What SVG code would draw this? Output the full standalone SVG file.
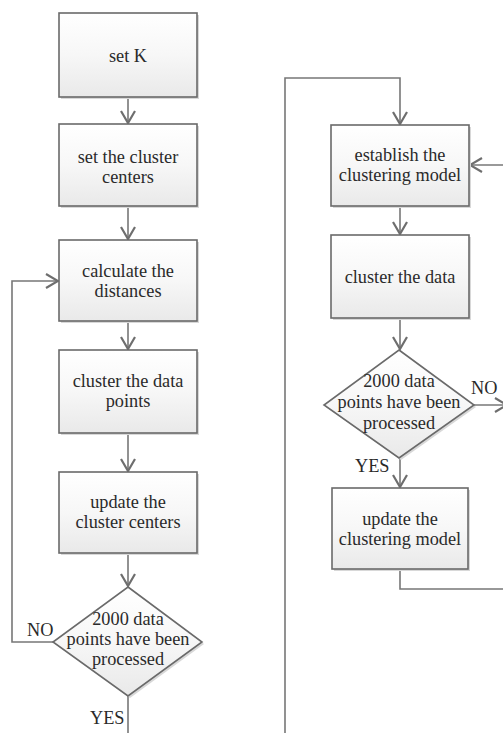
<svg xmlns="http://www.w3.org/2000/svg" width="503" height="733" viewBox="0 0 503 733">
<defs>
<linearGradient id="g" x1="0" y1="0" x2="0" y2="1">
<stop offset="0" stop-color="#ffffff"/>
<stop offset="0.5" stop-color="#f7f7f7"/>
<stop offset="1" stop-color="#e9e9e9"/>
</linearGradient>
<marker id="ah" viewBox="0 0 16 16" markerWidth="16" markerHeight="16" refX="14" refY="8" orient="auto" markerUnits="userSpaceOnUse">
<path d="M2,1 L14,8 L2,15" fill="none" stroke="#6e6e6e" stroke-width="2.2"/>
</marker>
</defs>
<style>
.sh{fill:#d8d8d8;stroke:none}
.bx{fill:url(#g);stroke:#6a6a6a;stroke-width:1.6}
.t{font-family:'Liberation Serif','Times New Roman',serif;font-size:18.3px;fill:#2a2a2a;text-anchor:middle}
.l{font-family:'Liberation Serif','Times New Roman',serif;font-size:18.3px;fill:#2a2a2a}
.c{fill:none;stroke:#777;stroke-width:1.6}
.a{marker-end:url(#ah)}
</style>
<rect width="503" height="733" fill="#fff"/>
<g id="connectors">
<path class="c a" d="M128,97 V123"/>
<path class="c a" d="M128,206 V239"/>
<path class="c a" d="M128,321 V349"/>
<path class="c a" d="M128,433 V471"/>
<path class="c a" d="M128,553 V586"/>
<path class="c a" d="M53,642 H12 V281 H58"/>
<path class="c" d="M128,696 V733"/>
<path class="c a" d="M285,733 V78 H400 V124"/>
<path class="c a" d="M503,165 H470"/>
<path class="c a" d="M400,206 V234"/>
<path class="c a" d="M400,318 V349"/>
<path class="c a" d="M474,405 H507"/>
<path class="c a" d="M400,458 V487"/>
<path class="c" d="M400,569 V589 H503"/>
</g>
<g id="n1"><rect class="sh" x="61" y="15" width="138" height="84"/><rect class="bx" x="59" y="13" width="138" height="84"/><text class="t" x="128" y="62">set K</text></g>
<g id="n2"><rect class="sh" x="61" y="126" width="138" height="82"/><rect class="bx" x="59" y="124" width="138" height="82"/><text class="t" x="128" y="163">set the cluster</text><text class="t" x="128" y="183">centers</text></g>
<g id="n3"><rect class="sh" x="61" y="242" width="138" height="81"/><rect class="bx" x="59" y="240" width="138" height="81"/><text class="t" x="128" y="277">calculate the</text><text class="t" x="128" y="297">distances</text></g>
<g id="n4"><rect class="sh" x="61" y="352" width="138" height="83"/><rect class="bx" x="59" y="350" width="138" height="83"/><text class="t" x="128" y="387">cluster the data</text><text class="t" x="128" y="407">points</text></g>
<g id="n5"><rect class="sh" x="61" y="474" width="138" height="81"/><rect class="bx" x="59" y="472" width="138" height="81"/><text class="t" x="128" y="508">update the</text><text class="t" x="128" y="528">cluster centers</text></g>
<g id="d1"><polygon class="sh" points="130,589 204,644 130,698 55,644"/><polygon class="bx" points="128,587 202,642 128,696 53,642"/><text class="t" x="128" y="625">2000 data</text><text class="t" x="128" y="645">points have been</text><text class="t" x="128" y="665">processed</text></g>
<g id="lbl-left"><text class="l" x="27" y="636">NO</text><text class="l" x="90" y="724">YES</text></g>
<g id="n6"><rect class="sh" x="333" y="127" width="138" height="81"/><rect class="bx" x="331" y="125" width="138" height="81"/><text class="t" x="400" y="161">establish the</text><text class="t" x="400" y="181">clustering model</text></g>
<g id="n7"><rect class="sh" x="333" y="237" width="138" height="83"/><rect class="bx" x="331" y="235" width="138" height="83"/><text class="t" x="400" y="283">cluster the data</text></g>
<g id="d2"><polygon class="sh" points="401,352 476,407 401,460 326,407"/><polygon class="bx" points="399,350 474,405 399,458 324,405"/><text class="t" x="399" y="387">2000 data</text><text class="t" x="399" y="408">points have been</text><text class="t" x="399" y="429">processed</text></g>
<g id="lbl-right"><text class="l" x="471" y="394">NO</text><text class="l" x="355" y="472">YES</text></g>
<g id="n8"><rect class="sh" x="334" y="490" width="136" height="81"/><rect class="bx" x="332" y="488" width="136" height="81"/><text class="t" x="400" y="525">update the</text><text class="t" x="400" y="545">clustering model</text></g>
</svg>
